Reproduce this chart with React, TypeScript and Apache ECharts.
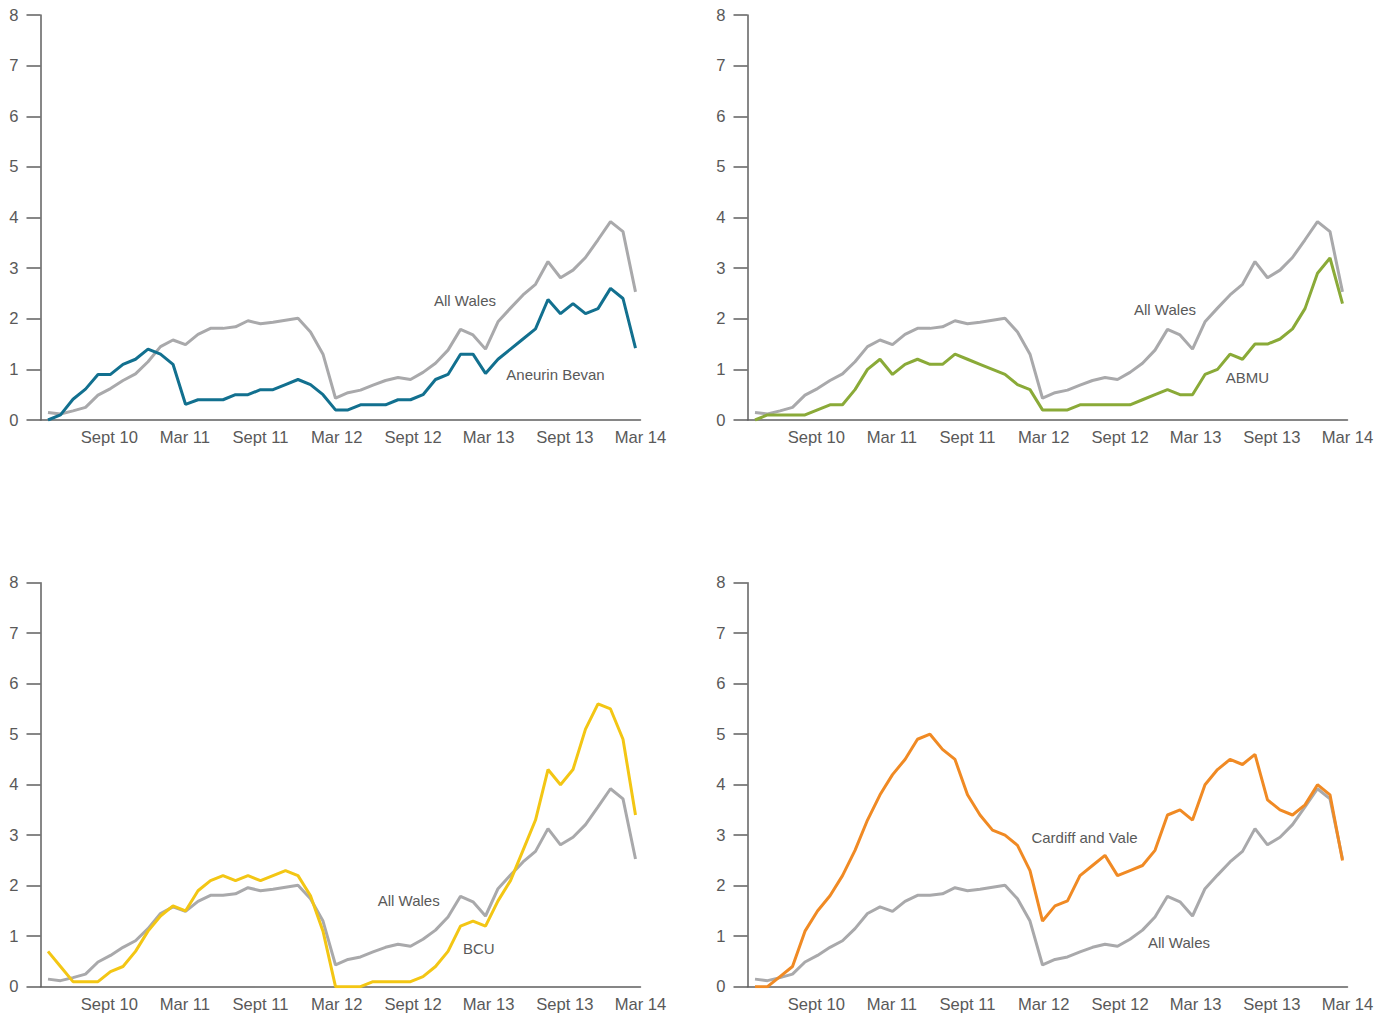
import React, { useEffect, useRef } from "react";
import * as echarts from "echarts";

// Monthly data, Apr 2010 .. Mar 2014 (48 months), index 0..47
const tickPos = [4.9, 10.95, 17.0, 23.1, 29.2, 35.25, 41.35, 47.4];
const tickLabels = ["Sept 10", "Mar 11", "Sept 11", "Mar 12", "Sept 12", "Mar 13", "Sept 13", "Mar 14"];

const allWales = [
  0.15, 0.12, 0.18, 0.25, 0.49, 0.62, 0.78, 0.91, 1.15, 1.45, 1.58, 1.49,
  1.69, 1.81, 1.81, 1.84, 1.96, 1.9, 1.93, 1.97, 2.01, 1.74, 1.3, 0.43,
  0.54, 0.59, 0.69, 0.78, 0.84, 0.8, 0.94, 1.12, 1.38, 1.79, 1.68, 1.4,
  1.94, 2.21, 2.47, 2.68, 3.13, 2.81, 2.96, 3.21, 3.56, 3.92, 3.72, 2.53,
];
const aneurinBevan = [
  0, 0.1, 0.41, 0.61, 0.9, 0.9, 1.1, 1.2, 1.4, 1.3, 1.1, 0.31,
  0.4, 0.4, 0.4, 0.5, 0.5, 0.6, 0.6, 0.7, 0.8, 0.7, 0.5, 0.2,
  0.2, 0.3, 0.3, 0.3, 0.4, 0.4, 0.5, 0.8, 0.9, 1.3, 1.3, 0.92,
  1.2, 1.4, 1.6, 1.8, 2.38, 2.1, 2.3, 2.1, 2.2, 2.6, 2.4, 1.42,
];
const abmu = [
  0, 0.1, 0.1, 0.1, 0.1, 0.2, 0.3, 0.3, 0.6, 1.0, 1.2, 0.9,
  1.1, 1.2, 1.1, 1.1, 1.3, 1.2, 1.1, 1.0, 0.9, 0.7, 0.6, 0.2,
  0.2, 0.2, 0.3, 0.3, 0.3, 0.3, 0.3, 0.4, 0.5, 0.6, 0.5, 0.5,
  0.9, 1.0, 1.3, 1.2, 1.5, 1.5, 1.6, 1.8, 2.2, 2.9, 3.2, 2.3,
];
const bcu = [
  0.7, 0.4, 0.1, 0.1, 0.1, 0.3, 0.4, 0.7, 1.1, 1.4, 1.6, 1.5,
  1.9, 2.1, 2.2, 2.1, 2.2, 2.1, 2.2, 2.3, 2.2, 1.8, 1.1, 0,
  0, 0, 0.1, 0.1, 0.1, 0.1, 0.2, 0.4, 0.7, 1.2, 1.3, 1.2,
  1.7, 2.1, 2.7, 3.3, 4.3, 4.0, 4.3, 5.1, 5.6, 5.5, 4.9, 3.4,
];
const cardiffVale = [
  0, 0, 0.2, 0.4, 1.1, 1.5, 1.8, 2.2, 2.7, 3.3, 3.8, 4.2,
  4.5, 4.9, 5.0, 4.7, 4.5, 3.8, 3.4, 3.1, 3.0, 2.8, 2.3, 1.3,
  1.6, 1.7, 2.2, 2.4, 2.6, 2.2, 2.3, 2.4, 2.7, 3.4, 3.5, 3.3,
  4.0, 4.3, 4.5, 4.4, 4.6, 3.7, 3.5, 3.4, 3.6, 4.0, 3.8, 2.5,
];

const GRAY = "#a9a9ab";
const TEXT = "#595959";
const AXIS = "#5f5f5f";
const FONT = "'Liberation Sans', Arial, sans-serif";

const panels = [
  { name: "Aneurin Bevan", data: aneurinBevan, color: "#12708f", left: 40.5, top: 15, height: 405,
    labels: [{ t: "All Wales", x: 465, y: 300 }, { t: "Aneurin Bevan", x: 555.5, y: 374.5 }] },
  { name: "ABMU", data: abmu, color: "#8aaa38", left: 747.5, top: 15, height: 405,
    labels: [{ t: "All Wales", x: 1165, y: 309.7 }, { t: "ABMU", x: 1247.5, y: 377 }] },
  { name: "BCU", data: bcu, color: "#f3c614", left: 40.5, top: 582.7, height: 404,
    labels: [{ t: "All Wales", x: 408.7, y: 900 }, { t: "BCU", x: 478.8, y: 948.7 }] },
  { name: "Cardiff and Vale", data: cardiffVale, color: "#f08a24", left: 747.5, top: 582.7, height: 404,
    labels: [{ t: "Cardiff and Vale", x: 1084.5, y: 837.8 }, { t: "All Wales", x: 1179, y: 942.8 }] },
];

const toPairs = (arr: number[]) => arr.map((v, i) => [i, v]);

const labelFor = (v: number) => {
  let best = 0;
  tickPos.forEach((p, i) => {
    if (Math.abs(p - v) < Math.abs(tickPos[best] - v)) best = i;
  });
  return Math.abs(tickPos[best] - v) < 0.01 ? tickLabels[best] : "";
};

export default function App() {
  const ref = useRef<HTMLDivElement>(null);
  useEffect(() => {
    if (!ref.current) return;
    const chart = echarts.init(ref.current, null, { renderer: "svg" });
    const grid: any[] = [];
    const xAxis: any[] = [];
    const yAxis: any[] = [];
    const series: any[] = [];
    const graphic: any[] = [];
    panels.forEach((p, k) => {
      grid.push({ left: p.left, top: p.top, width: 600, height: p.height, containLabel: false });
      xAxis.push({
        type: "value", gridIndex: k, min: -0.6, max: 47.4,
        axisLine: { show: true, lineStyle: { color: AXIS, width: 1.5 } },
        axisTick: { show: false },
        splitLine: { show: false },
        axisLabel: {
          customValues: tickPos,
          formatter: (v: number) => labelFor(v),
          color: TEXT, fontSize: 16.6, fontFamily: FONT, margin: 9,
          showMaxLabel: true, showMinLabel: true,
        },
      });
      yAxis.push({
        type: "value", gridIndex: k, min: 0, max: 8, interval: 1,
        axisLine: { show: true, onZero: false, lineStyle: { color: AXIS, width: 1.5 } },
        axisTick: { show: true, length: 14, lineStyle: { color: AXIS, width: 1.5 } },
        splitLine: { show: false },
        axisLabel: { color: TEXT, fontSize: 16.6, fontFamily: FONT, margin: 22 },
      });
      series.push({
        type: "line", name: "All Wales", xAxisIndex: k, yAxisIndex: k, data: toPairs(allWales),
        showSymbol: false, lineStyle: { color: GRAY, width: 3 }, itemStyle: { color: GRAY }, z: 2,
      });
      series.push({
        type: "line", name: p.name, xAxisIndex: k, yAxisIndex: k, data: toPairs(p.data),
        showSymbol: false, lineStyle: { color: p.color, width: 3 }, itemStyle: { color: p.color }, z: 3,
      });
      p.labels.forEach((l) => {
        graphic.push({
          type: "text", x: l.x, y: l.y,
          style: { text: l.t, fill: TEXT, font: `15px ${FONT}`, textAlign: "center", textVerticalAlign: "middle" },
        });
      });
    });
    chart.setOption({
      animation: false,
      backgroundColor: "#ffffff",
      grid, xAxis, yAxis, series, graphic,
    });
    return () => chart.dispose();
  }, []);
  return (
    <div
      ref={ref}
      style={{ position: "absolute", left: 0, top: 0, width: 1394, height: 1019, background: "#fff" }}
    />
  );
}
